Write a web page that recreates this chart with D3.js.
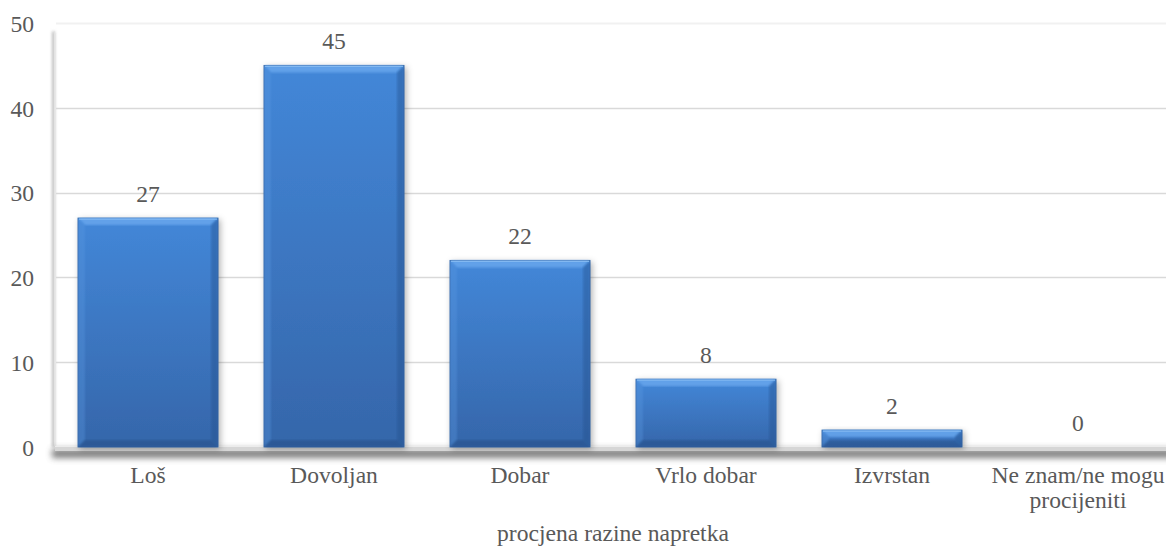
<!DOCTYPE html>
<html>
<head>
<meta charset="utf-8">
<script src="https://cdn.jsdelivr.net/npm/d3@7"></script>
<style>
  html, body { margin: 0; padding: 0; background: #fff; }
  svg { display: block; }
</style>
</head>
<body>
<svg id="chart" width="1166" height="549"></svg>
<script>
// Survey answers: assessment of the level of progress
const categories = ["Loš", "Dovoljan", "Dobar", "Vrlo dobar", "Izvrstan", "Ne znam/ne mogu|procijeniti"];
const values = [27, 45, 22, 8, 2, 0];
const yTicks = [0, 10, 20, 30, 40, 50];
const axisTitle = "procjena razine napretka";

const W = 1166, H = 549;
const plot = { left: 55, right: 1171, top: 23, bottom: 447 };
const fontSize = 23.6;
const FONT = "'Liberation Serif', 'Times New Roman', Times, serif";
const TEXT_COLOR = "#595959";

const svg = d3.select("#chart");
const defs = svg.append("defs");

// Bar body gradient
const grad = defs.append("linearGradient").attr("id", "barFill")
  .attr("x1", 0).attr("y1", 0).attr("x2", 0).attr("y2", 1);
grad.append("stop").attr("offset", "0%").attr("stop-color", "#4387d8");
grad.append("stop").attr("offset", "100%").attr("stop-color", "#3566aa");

// Soft bar shadow
const sh = defs.append("filter").attr("id", "barShadow")
  .attr("x", "-20%").attr("y", "-20%").attr("width", "140%").attr("height", "140%");
sh.append("feDropShadow").attr("dx", 2).attr("dy", 2).attr("stdDeviation", 3)
  .attr("flood-color", "#000").attr("flood-opacity", 0.3);

const blur = defs.append("filter").attr("id", "blur")
  .attr("x", "-10%").attr("y", "-200%").attr("width", "120%").attr("height", "500%");
blur.append("feGaussianBlur").attr("stdDeviation", 3);

const blurV = defs.append("filter").attr("id", "blurV")
  .attr("x", "-300%").attr("y", "-10%").attr("width", "700%").attr("height", "120%");
blurV.append("feGaussianBlur").attr("stdDeviation", 1.5);

const bevelBlur = defs.append("filter").attr("id", "bevelBlur");
bevelBlur.append("feGaussianBlur").attr("stdDeviation", 0.8);

const x = d3.scaleBand()
  .domain(categories)
  .range([plot.left, plot.right])
  .paddingInner(0.247)
  .paddingOuter(0.1235);

const y = d3.scaleLinear()
  .domain([0, 50])
  .range([plot.bottom, plot.top]);

function styleText(sel) {
  sel.style("font-family", FONT).style("font-size", fontSize + "px").style("fill", TEXT_COLOR);
}

// Left wall shadow
svg.append("rect")
  .attr("x", plot.left - 3).attr("y", y(49)).attr("width", 3)
  .attr("height", plot.bottom - y(49))
  .attr("fill", "#bdbdbd").attr("filter", "url(#blurV)");
svg.append("line")
  .attr("x1", plot.left - 0.5).attr("x2", plot.left - 0.5)
  .attr("y1", y(49)).attr("y2", plot.bottom)
  .attr("stroke", "#e3e3e3").attr("stroke-width", 1);

// Gridlines
svg.append("g").selectAll("line")
  .data(yTicks.filter(d => d > 0))
  .join("line")
  .attr("x1", plot.left + 1).attr("x2", W)
  .attr("y1", d => Math.round(y(d)) + 0.5).attr("y2", d => Math.round(y(d)) + 0.5)
  .attr("stroke", d => d === 50 ? "#f1f1f1" : "#d9d9d9")
  .attr("stroke-width", d => d === 50 ? 2 : 1.5);

// Floor with its shadow
svg.append("rect")
  .attr("x", plot.left - 3).attr("y", plot.bottom + 2).attr("width", W - plot.left + 10).attr("height", 9)
  .attr("fill", "#555").attr("opacity", 0.75).attr("filter", "url(#blur)");
svg.append("rect")
  .attr("x", plot.left).attr("y", plot.bottom - 1).attr("width", W - plot.left + 5).attr("height", 5)
  .attr("fill", "#d6d6d6");
svg.append("line")
  .attr("x1", plot.left).attr("x2", W)
  .attr("y1", plot.bottom - 0.5).attr("y2", plot.bottom - 0.5)
  .attr("stroke", "#ececec");

// Bars with bevelled edges
const bw = x.bandwidth();
const bars = svg.append("g").selectAll("g")
  .data(values.map((v, i) => ({ cat: categories[i], v })).filter(d => d.v > 0))
  .join("g");

bars.append("rect")
  .attr("x", d => x(d.cat)).attr("y", d => y(d.v))
  .attr("width", bw).attr("height", d => y(0) - y(d.v))
  .attr("fill", "url(#barFill)")
  .attr("stroke", "#34639f").attr("stroke-width", 0.8)
  .attr("filter", "url(#barShadow)");

const bev = 7;
function bevelPaths(d) {
  const x0 = x(d.cat), x1 = x0 + bw, y0 = y(d.v), y1 = y(0);
  const b = Math.min(bev, (y1 - y0) / 2);
  return [
    { p: [[x0, y0], [x1, y0], [x1 - b, y0 + b], [x0 + b, y0 + b]], c: "#6aa8ee", o: 0.8 },
    { p: [[x0, y0], [x0 + b, y0 + b], [x0 + b, y1 - b], [x0, y1]], c: "#5a98e0", o: 0.35 },
    { p: [[x1, y0], [x1, y1], [x1 - b, y1 - b], [x1 - b, y0 + b]], c: "#244f8a", o: 0.4 },
    { p: [[x0, y1], [x0 + b, y1 - b], [x1 - b, y1 - b], [x1, y1]], c: "#224a80", o: 0.45 }
  ];
}
bars.each(function (d) {
  d3.select(this).selectAll("path.bevel")
    .data(bevelPaths(d))
    .join("path")
    .attr("class", "bevel")
    .attr("d", s => "M" + s.p.map(q => q.join(",")).join("L") + "Z")
    .attr("fill", s => s.c)
    .attr("opacity", s => s.o)
    .attr("filter", "url(#bevelBlur)");
});
// thin highlight on the top edge
bars.append("line")
  .attr("x1", d => x(d.cat) + 1).attr("x2", d => x(d.cat) + bw - 1)
  .attr("y1", d => y(d.v) + 1).attr("y2", d => y(d.v) + 1)
  .attr("stroke", "#8cc0f5").attr("stroke-width", 1.2).attr("opacity", 0.8);

// Value labels
svg.append("g").selectAll("text")
  .data(values.map((v, i) => ({ cat: categories[i], v })))
  .join("text")
  .attr("x", d => x(d.cat) + bw / 2)
  .attr("y", d => y(d.v) - 16)
  .attr("text-anchor", "middle")
  .call(styleText)
  .text(d => d.v);

// Y axis
const yAxis = d3.axisLeft(y).tickValues(yTicks).tickSize(0).tickPadding(0);
const yg = svg.append("g").attr("transform", `translate(${plot.left - 21},0)`).call(yAxis);
yg.select(".domain").remove();
yg.selectAll("text").call(styleText).attr("dy", "0.35em");

// X axis labels
const xAxis = d3.axisBottom(x).tickSize(0).tickFormat("");
const xg = svg.append("g").attr("transform", `translate(0,${plot.bottom})`).call(xAxis);
xg.select(".domain").remove();
xg.selectAll(".tick").each(function (d) {
  const lines = d.split("|");
  const t = d3.select(this).append("text")
    .attr("text-anchor", "middle")
    .call(styleText);
  lines.forEach((ln, i) => {
    t.append("tspan").attr("x", 0).attr("y", 36 + i * 25).text(ln);
  });
});

// Axis title
svg.append("text")
  .attr("x", (plot.left + plot.right) / 2)
  .attr("y", 541)
  .attr("text-anchor", "middle")
  .call(styleText)
  .text(axisTitle);
</script>
</body>
</html>
